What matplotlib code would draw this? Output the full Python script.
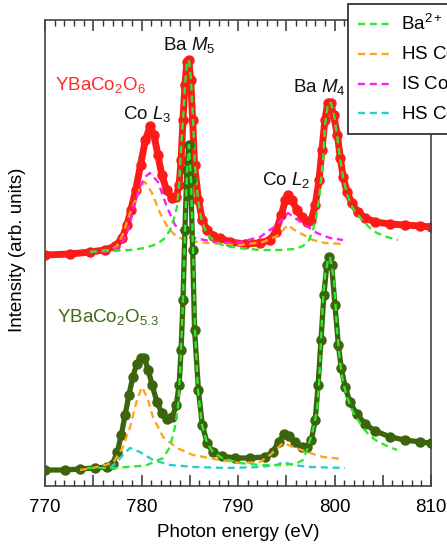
import numpy as np
import matplotlib
matplotlib.use("Agg")
import matplotlib.pyplot as plt
from matplotlib.ticker import MultipleLocator, FuncFormatter

plt.rcParams['font.family'] = ['Liberation Sans', 'DejaVu Sans']
plt.rcParams['mathtext.fontset'] = 'custom'
plt.rcParams['mathtext.rm'] = 'Liberation Sans'
plt.rcParams['mathtext.it'] = 'Liberation Sans:italic'

# -------------------------------
# Measured spectra (photon energy in eV, intensity in arb. units)
# -------------------------------
# YBaCo2O6 (upper, red)
e_o6 = [770.0, 772.6, 774.7, 776.2, 777.3, 778.0, 778.5, 778.9, 779.4, 779.9,
        780.4, 780.9, 781.3, 781.7, 782.1, 782.6, 783.2, 783.6, 783.9, 784.1,
        784.3, 784.5, 784.7, 784.9, 785.1, 785.3, 785.5, 785.9, 786.3, 786.8,
        787.4, 788.1, 789.2, 790.7, 792.3, 793.3, 793.9, 794.5, 794.9, 795.2,
        795.6, 796.1, 796.6, 797.2, 797.6, 798.0, 798.4, 798.7, 799.0, 799.3,
        799.6, 799.9, 800.3, 800.6, 800.9, 801.3, 801.8, 802.4, 803.2, 804.2,
        805.8, 807.3, 808.9, 810.0]
i_o6 = [2.31, 2.32, 2.34, 2.36, 2.40, 2.48, 2.61, 2.76, 2.96, 3.21,
        3.46, 3.60, 3.51, 3.31, 3.11, 2.96, 2.88, 2.89, 3.01, 3.26,
        3.66, 4.01, 4.24, 4.26, 4.06, 3.66, 3.21, 2.86, 2.66, 2.56,
        2.50, 2.48, 2.44, 2.42, 2.43, 2.46, 2.54, 2.71, 2.86, 2.91,
        2.86, 2.76, 2.69, 2.64, 2.66, 2.81, 3.06, 3.36, 3.66, 3.83,
        3.83, 3.71, 3.51, 3.28, 3.09, 2.94, 2.83, 2.74, 2.68, 2.64,
        2.62, 2.61, 2.60, 2.59]

# YBaCo2O5.3 (lower, dark green)
e_o53 = [770.0, 772.1, 773.6, 775.2, 776.4, 777.0, 777.5, 777.9, 778.3, 778.7,
         779.1, 779.5, 779.9, 780.3, 780.7, 781.1, 781.6, 782.1, 782.6, 783.2,
         783.6, 783.9, 784.1, 784.3, 784.5, 784.7, 784.9, 785.1, 785.3, 785.5,
         785.9, 786.3, 786.8, 787.4, 788.3, 789.7, 791.2, 792.8, 793.6, 794.2,
         794.8, 795.3, 795.9, 796.6, 797.2, 797.6, 798.0, 798.3, 798.6, 798.9,
         799.2, 799.4, 799.7, 800.05, 800.4, 800.7, 801.1, 801.6, 802.3, 803.2,
         804.2, 805.8, 807.3, 808.9, 810.0]
i_o53 = [0.16, 0.16, 0.17, 0.18, 0.19, 0.22, 0.34, 0.51, 0.71, 0.91,
         1.09, 1.22, 1.28, 1.28, 1.16, 1.01, 0.84, 0.73, 0.67, 0.69,
         0.81, 1.01, 1.36, 1.86, 2.56, 3.16, 3.41, 3.06, 2.36, 1.56,
         0.96, 0.61, 0.43, 0.34, 0.30, 0.28, 0.28, 0.29, 0.34, 0.44,
         0.52, 0.50, 0.44, 0.39, 0.39, 0.46, 0.66, 1.01, 1.46, 1.91,
         2.21, 2.29, 2.21, 1.81, 1.41, 1.18, 0.99, 0.84, 0.72, 0.62,
         0.55, 0.49, 0.46, 0.44, 0.43]

# -------------------------------
# Fit components
# -------------------------------
# YBaCo2O6: Ba2+
e_o6_ba = [774.66, 775.70, 776.74, 778.81, 780.36, 781.61, 782.44, 782.95, 783.37, 783.68,
           783.89, 784.09, 784.30, 784.51, 784.72, 784.92, 785.13, 785.34, 785.54, 785.85,
           786.27, 786.79, 787.41, 788.34, 790.21, 792.28, 794.35, 795.91, 796.74, 797.36,
           797.77, 798.08, 798.39, 798.60, 798.81, 799.02, 799.33, 799.64, 799.95, 800.26,
           800.57, 800.88, 801.30, 801.81, 802.44, 802.95, 803.68, 804.40, 805.44, 806.58]
i_o6_ba = [2.34, 2.35, 2.35, 2.36, 2.38, 2.42, 2.48, 2.56, 2.68, 2.79,
           3.01, 3.36, 3.66, 4.01, 4.24, 4.26, 4.06, 3.66, 3.21, 2.86,
           2.64, 2.52, 2.46, 2.41, 2.38, 2.36, 2.36, 2.37, 2.40, 2.46,
           2.56, 2.68, 2.86, 3.06, 3.26, 3.61, 3.83, 3.83, 3.71, 3.51,
           3.28, 3.09, 2.92, 2.79, 2.71, 2.65, 2.58, 2.53, 2.49, 2.46]

# YBaCo2O6: HS Co3+
e_o6_hs3 = [774.66, 776.74, 777.46, 778.08, 778.81, 779.53, 779.84, 780.36, 781.09, 781.92,
            782.75, 783.68, 784.92, 786.79, 790.21, 792.59, 794.04, 794.66, 795.18, 795.70,
            796.42, 797.77, 799.02, 800.88]
i_o6_hs3 = [2.34, 2.36, 2.40, 2.52, 2.73, 2.90, 2.98, 3.04, 2.93, 2.73,
            2.58, 2.49, 2.45, 2.43, 2.41, 2.44, 2.50, 2.56, 2.61, 2.57,
            2.53, 2.46, 2.43, 2.42]

# YBaCo2O6: IS Co3+
e_o6_is3 = [774.66, 776.74, 777.77, 778.50, 779.12, 779.84, 780.36, 780.88, 781.71, 782.64,
            783.47, 784.92, 788.13, 790.21, 792.28, 794.04, 795.18, 796.63, 798.19, 799.53,
            800.88]
i_o6_is3 = [2.34, 2.35, 2.39, 2.53, 2.76, 2.99, 3.09, 3.13, 3.04, 2.79,
            2.61, 2.49, 2.43, 2.44, 2.49, 2.61, 2.73, 2.63, 2.53, 2.48,
            2.46]

# YBaCo2O5.3: Ba2+
e_o53_ba = [774.35, 777.05, 779.84, 780.57, 782.23, 782.95, 783.47, 783.78, 783.99, 784.09,
            784.30, 784.51, 784.72, 784.92, 785.13, 785.34, 785.54, 785.85, 786.27, 786.79,
            787.41, 788.34, 790.21, 792.28, 794.35, 795.91, 796.74, 797.15, 797.77, 798.19,
            798.39, 798.60, 798.81, 799.02, 799.33, 799.53, 799.95, 800.26, 800.57, 800.88,
            801.30, 801.81, 802.44, 802.95, 803.68, 804.40, 805.44, 806.48]
i_o53_ba = [0.18, 0.18, 0.20, 0.21, 0.28, 0.39, 0.59, 0.79, 1.13, 1.36,
            1.86, 2.56, 3.16, 3.41, 3.06, 2.36, 1.56, 0.96, 0.61, 0.43,
            0.34, 0.28, 0.23, 0.21, 0.21, 0.22, 0.26, 0.36, 0.56, 0.76,
            1.01, 1.46, 1.86, 2.11, 2.26, 2.29, 2.06, 1.56, 1.24, 1.04,
            0.89, 0.76, 0.66, 0.58, 0.50, 0.45, 0.40, 0.36]

# YBaCo2O5.3: HS Co3+
e_o53_hs3 = [773.63, 774.97, 777.05, 778.08, 778.81, 779.53, 780.05, 780.57, 781.19, 782.23,
             783.68, 785.34, 788.13, 790.21, 792.28, 793.32, 794.66, 795.70, 797.46, 798.81,
             800.88]
i_o53_hs3 = [0.16, 0.18, 0.23, 0.39, 0.59, 0.86, 0.99, 0.89, 0.69, 0.49,
             0.38, 0.31, 0.26, 0.23, 0.24, 0.31, 0.43, 0.39, 0.33, 0.29,
             0.27]

# YBaCo2O5.3: HS Co2+
e_o53_hs2 = [776.74, 777.46, 778.08, 778.81, 779.84, 781.19, 782.95, 785.54, 788.86, 792.28,
             794.04, 794.66, 795.70, 797.46, 801.09]
i_o53_hs2 = [0.18, 0.24, 0.31, 0.38, 0.34, 0.26, 0.21, 0.19, 0.18, 0.19,
             0.21, 0.24, 0.21, 0.19, 0.18]

legend_labels = ['Ba$^{2+}$', 'HS Co$^{3+}$', 'IS Co$^{3+}$', 'HS Co$^{2+}$']

c_red = '#ff1a1a'
c_dark = '#3b640c'
c_ba = '#2ee82e'
c_hs3 = '#ffa41c'
c_is3 = '#ff1ef0'
c_hs2 = '#2ccccc'

fig = plt.figure(figsize=(4.47, 5.44), dpi=100)
ax = fig.add_axes([45 / 447, 1 - 486 / 544, 386 / 447, 466 / 544])

dash_kw = dict(lw=1.7, dashes=(3, 2))

# upper spectrum and its fits
ax.plot(e_o6, i_o6, '-o', color=c_red, lw=5, ms=6.5, mec=c_red, zorder=2)
ax.plot(e_o6_hs3, i_o6_hs3, color=c_hs3, zorder=3, **dash_kw)
ax.plot(e_o6_is3, i_o6_is3, color=c_is3, zorder=3, **dash_kw)
ax.plot(e_o6_ba, i_o6_ba, color=c_ba, zorder=3, **dash_kw)

# lower spectrum and its fits
ax.plot(e_o53, i_o53, '-o', color=c_dark, lw=3.8, ms=6.5, mec=c_dark, zorder=4)
ax.plot(e_o53_hs3, i_o53_hs3, color=c_hs3, zorder=5, **dash_kw)
ax.plot(e_o53_hs2, i_o53_hs2, color=c_hs2, zorder=5, **dash_kw)
ax.plot(e_o53_ba, i_o53_ba, color=c_ba, zorder=5, **dash_kw)

# legend handles
handles = [plt.Line2D([], [], color=c, **dash_kw) for c in [c_ba, c_hs3, c_is3, c_hs2]]
leg = fig.legend(handles, legend_labels, loc='upper left',
                 bbox_to_anchor=(348 / 447, 1 - 4 / 544), bbox_transform=fig.transFigure,
                 fontsize=13.5, frameon=True, fancybox=False, framealpha=1,
                 edgecolor='#222222', handlelength=1.7, handletextpad=0.6,
                 labelspacing=0.52, borderpad=0.55, borderaxespad=0)
leg.get_frame().set_linewidth(1.2)

# annotations
txt = dict(fontsize=13.5, ha='left', va='baseline')
ax.text(771.04, 3.96, 'YBaCo$_2$O$_6$', color='#ff2a2a', **txt)
ax.text(778.08, 3.67, 'Co $L_3$', color='#111111', **txt)
ax.text(782.2, 4.36, 'Ba $M_5$', color='#111111', **txt)
ax.text(792.49, 3.01, 'Co $L_2$', color='#111111', **txt)
ax.text(795.70, 3.94, 'Ba $M_4$', color='#111111', **txt)
ax.text(771.24, 1.64, 'YBaCo$_2$O$_{5.3}$', color='#3d6a14', **txt)

ax.set_xlim(770, 810)
ax.set_ylim(0, 4.66)
ax.set_yticks([])
ax.xaxis.set_major_locator(MultipleLocator(5))
ax.xaxis.set_minor_locator(MultipleLocator(1))
ax.xaxis.set_major_formatter(FuncFormatter(lambda v, p: f"{v:.0f}" if v % 10 == 0 else ""))
ax.tick_params(axis='x', which='both', direction='in', top=True, bottom=True,
               color='#333333', labelsize=13.5, pad=9)
ax.tick_params(axis='x', which='major', length=8, width=1.1)
ax.tick_params(axis='x', which='minor', length=4.5, width=1.0)
for s in ax.spines.values():
    s.set_color('#444444')
    s.set_linewidth(1.2)

ax.set_xlabel('Photon energy (eV)', fontsize=13.5, labelpad=6)
fig.text(18 / 447, 1 - 250 / 544, 'Intensity (arb. units)', rotation=90,
         ha='center', va='center', fontsize=13.5)

fig.savefig('out.png', dpi=100)
